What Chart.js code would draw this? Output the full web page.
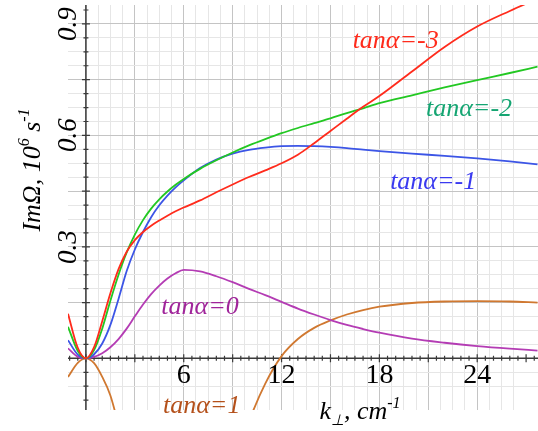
<!DOCTYPE html>
<html>
<head>
<meta charset="utf-8">
<script src="https://cdn.jsdelivr.net/npm/chart.js@4.4.1/dist/chart.umd.min.js"></script>
<style>
  body { margin: 0; font-family: "Liberation Serif", serif; font-size: 20px; }
  #wrap { position: relative; width: 538px; height: 431px; }
  .lbl {
    position: absolute;
    white-space: nowrap;
    line-height: 1;
    font-family: "Liberation Serif", "Times New Roman", Tinos, serif;
    font-style: italic;
  }
</style>
</head>
<body>
<div id="wrap"><canvas id="chart" width="538" height="431"></canvas></div>
<script>
// k_perp, cm^-1
const kValues = [-1.1, -0.5, 0, 0.5, 1, 1.5, 2, 2.5, 3, 3.5, 4, 4.5, 5, 5.5, 6, 7, 8, 9, 10, 11, 12, 13, 14, 15, 16, 17, 18, 20, 22, 24, 26, 27.7];

// Im Omega, 10^6 s^-1
const tanMinus3 = [0.12, 0.028, 0, 0.03, 0.1, 0.175, 0.24, 0.287, 0.318, 0.34, 0.357, 0.371, 0.384, 0.396, 0.406, 0.425, 0.447, 0.468, 0.488, 0.506, 0.525, 0.548, 0.579, 0.612, 0.645, 0.677, 0.706, 0.772, 0.838, 0.893, 0.935, 0.968];
const tanMinus2 = [0.085, 0.02, 0, 0.022, 0.08, 0.155, 0.225, 0.285, 0.333, 0.372, 0.403, 0.428, 0.449, 0.467, 0.483, 0.51, 0.533, 0.554, 0.573, 0.59, 0.606, 0.62, 0.633, 0.646, 0.66, 0.673, 0.687, 0.708, 0.729, 0.749, 0.768, 0.785];
const tanMinus1 = [0.049, 0.01, 0, 0.011, 0.04, 0.09, 0.16, 0.235, 0.293, 0.34, 0.38, 0.412, 0.438, 0.46, 0.479, 0.512, 0.535, 0.551, 0.561, 0.567, 0.571, 0.572, 0.571, 0.569, 0.566, 0.562, 0.558, 0.551, 0.545, 0.538, 0.53, 0.522];
const tanZero = [0.027, 0.004, 0, 0.004, 0.014, 0.03, 0.052, 0.08, 0.113, 0.145, 0.173, 0.196, 0.215, 0.229, 0.238, 0.234, 0.221, 0.205, 0.187, 0.17, 0.152, 0.134, 0.118, 0.103, 0.09, 0.079, 0.069, 0.053, 0.042, 0.033, 0.026, 0.021];
const tanPlus1 = [-0.05, -0.012, 0, -0.013, -0.05, -0.1, -0.18, -0.27, -0.36, -0.42, -0.47, -0.5, -0.52, -0.53, -0.53, -0.5, -0.42, -0.3, -0.17, -0.068, 0.006, 0.052, 0.082, 0.102, 0.118, 0.13, 0.139, 0.149, 0.153, 0.154, 0.153, 0.15];

const seriesNames = ['tanα=-3', 'tanα=-2', 'tanα=-1', 'tanα=0', 'tanα=1'];
const seriesValues = [tanMinus3, tanMinus2, tanMinus1, tanZero, tanPlus1];
const lineColors = ['#ff2b1c', '#22c822', '#3c55e6', '#b43cb4', '#d07830'];
const labelColors = ['#ff2b1c', '#15a572', '#3a3af0', '#a0259a', '#b4501a'];
// where each curve name sits, in data units (k, Im Omega)
const labelAnchorK = [19.0, 23.5, 21.3, 7.0, 7.1];
const labelAnchorV = [0.857, 0.674, 0.477, 0.141, -0.126];

const xTickLabels = [6, 12, 18, 24];
const yTickLabels = [0.3, 0.6, 0.9];

// ask for the serif faces early
if (document.fonts) {
  document.fonts.load('italic 26px "Liberation Serif"');
  document.fonts.load('28px "Liberation Serif"');
}

function isMultiple(v, step) {
  const r = v / step;
  return Math.abs(r - Math.round(r)) < 1e-6;
}

// axis lines through the origin with small tick marks
const axesPlugin = {
  id: 'axesPlugin',
  beforeDatasetsDraw(chart) {
    const ctx = chart.ctx;
    const xs = chart.scales.x, ys = chart.scales.y;
    const area = chart.chartArea;
    const x0 = xs.getPixelForValue(0), y0 = ys.getPixelForValue(0);
    ctx.save();
    ctx.strokeStyle = '#3a3a3a';
    ctx.lineWidth = 1.5;
    ctx.beginPath();
    ctx.moveTo(area.left, y0); ctx.lineTo(area.right, y0);
    ctx.moveTo(x0, area.top); ctx.lineTo(x0, area.bottom);
    ctx.stroke();
    ctx.lineWidth = 1.2;
    ctx.beginPath();
    for (let k = -1; k <= 27.7; k += 0.5) {
      const px = xs.getPixelForValue(k);
      const len = isMultiple(k, 3) ? 4 : 2.5;
      ctx.moveTo(px, y0 - len); ctx.lineTo(px, y0 + len);
    }
    for (let i = -3; i <= 25; i++) {
      const v = i * 0.0375;
      const py = ys.getPixelForValue(v);
      const len = isMultiple(v, 0.15) ? 4 : 2.5;
      ctx.moveTo(x0 - len, py); ctx.lineTo(x0 + len, py);
    }
    ctx.stroke();
    ctx.restore();
  }
};

const datasets = seriesNames.map((name, i) => ({
  label: name,
  data: kValues.map((k, j) => ({ x: k, y: seriesValues[i][j] })),
  borderColor: lineColors[i],
  borderWidth: 1.8,
  pointRadius: 0,
  fill: false,
  cubicInterpolationMode: 'monotone'
}));

const chart = new Chart(document.getElementById('chart').getContext('2d'), {
  type: 'line',
  data: { datasets },
  options: {
    responsive: false,
    animation: false,
    layout: { padding: { left: 68, top: 5, right: 0, bottom: 21 } },
    plugins: {
      legend: { display: false },
      tooltip: { enabled: false }
    },
    scales: {
      x: {
        type: 'linear',
        min: -1.1,
        max: 27.73,
        border: { display: false },
        ticks: { display: false, stepSize: 0.75 },
        grid: {
          drawTicks: false,
          lineWidth: 1,
          color: c => isMultiple(c.tick.value, 3) ? '#c4c4c4' : (isMultiple(c.tick.value, 0.75) ? '#e6e6e6' : 'rgba(0,0,0,0)')
        }
      },
      y: {
        type: 'linear',
        min: -0.139,
        max: 0.951,
        border: { display: false },
        ticks: { display: false, stepSize: 0.0375 },
        grid: {
          drawTicks: false,
          lineWidth: 1,
          color: c => isMultiple(c.tick.value, 0.15) ? '#c4c4c4' : (isMultiple(c.tick.value, 0.0375) ? '#e6e6e6' : 'rgba(0,0,0,0)')
        }
      }
    }
  },
  plugins: [axesPlugin]
});

// text labels on top of the canvas, placed with the chart's scales
const wrap = document.getElementById('wrap');
function addText(html, x, y, size, color, opts) {
  opts = opts || {};
  const d = document.createElement('div');
  d.className = 'lbl';
  d.innerHTML = html;
  d.style.left = x + 'px';
  d.style.top = y + 'px';
  d.style.fontSize = size + 'px';
  d.style.color = color;
  if (opts.upright) d.style.fontStyle = 'normal';
  d.style.transform = 'translate(-50%, -50%)' + (opts.rotate ? ' rotate(-90deg)' : '');
  wrap.appendChild(d);
}

const xs = chart.scales.x, ys = chart.scales.y;
xTickLabels.forEach(v => addText(String(v), xs.getPixelForValue(v), 374, 28, '#000', { upright: true }));
yTickLabels.forEach(v => addText(v.toFixed(1), 67, ys.getPixelForValue(v), 27, '#000', { rotate: true }));
seriesNames.forEach((name, i) => {
  addText(name, xs.getPixelForValue(labelAnchorK[i]), ys.getPixelForValue(labelAnchorV[i]), 26, labelColors[i]);
});
const sub = t => '<span style="font-size:15px;position:relative;top:6px">' + t + '</span>';
const sup = t => '<span style="font-size:16px;position:relative;top:-11px">' + t + '</span>';
addText('k' + sub('⊥') + ', cm' + sup('-1'), 360, 411, 26, '#000');
addText('ImΩ, 10' + sup('6') + ' s' + sup('-1'), 32, 170, 26, '#000', { rotate: true });
</script>
</body>
</html>
